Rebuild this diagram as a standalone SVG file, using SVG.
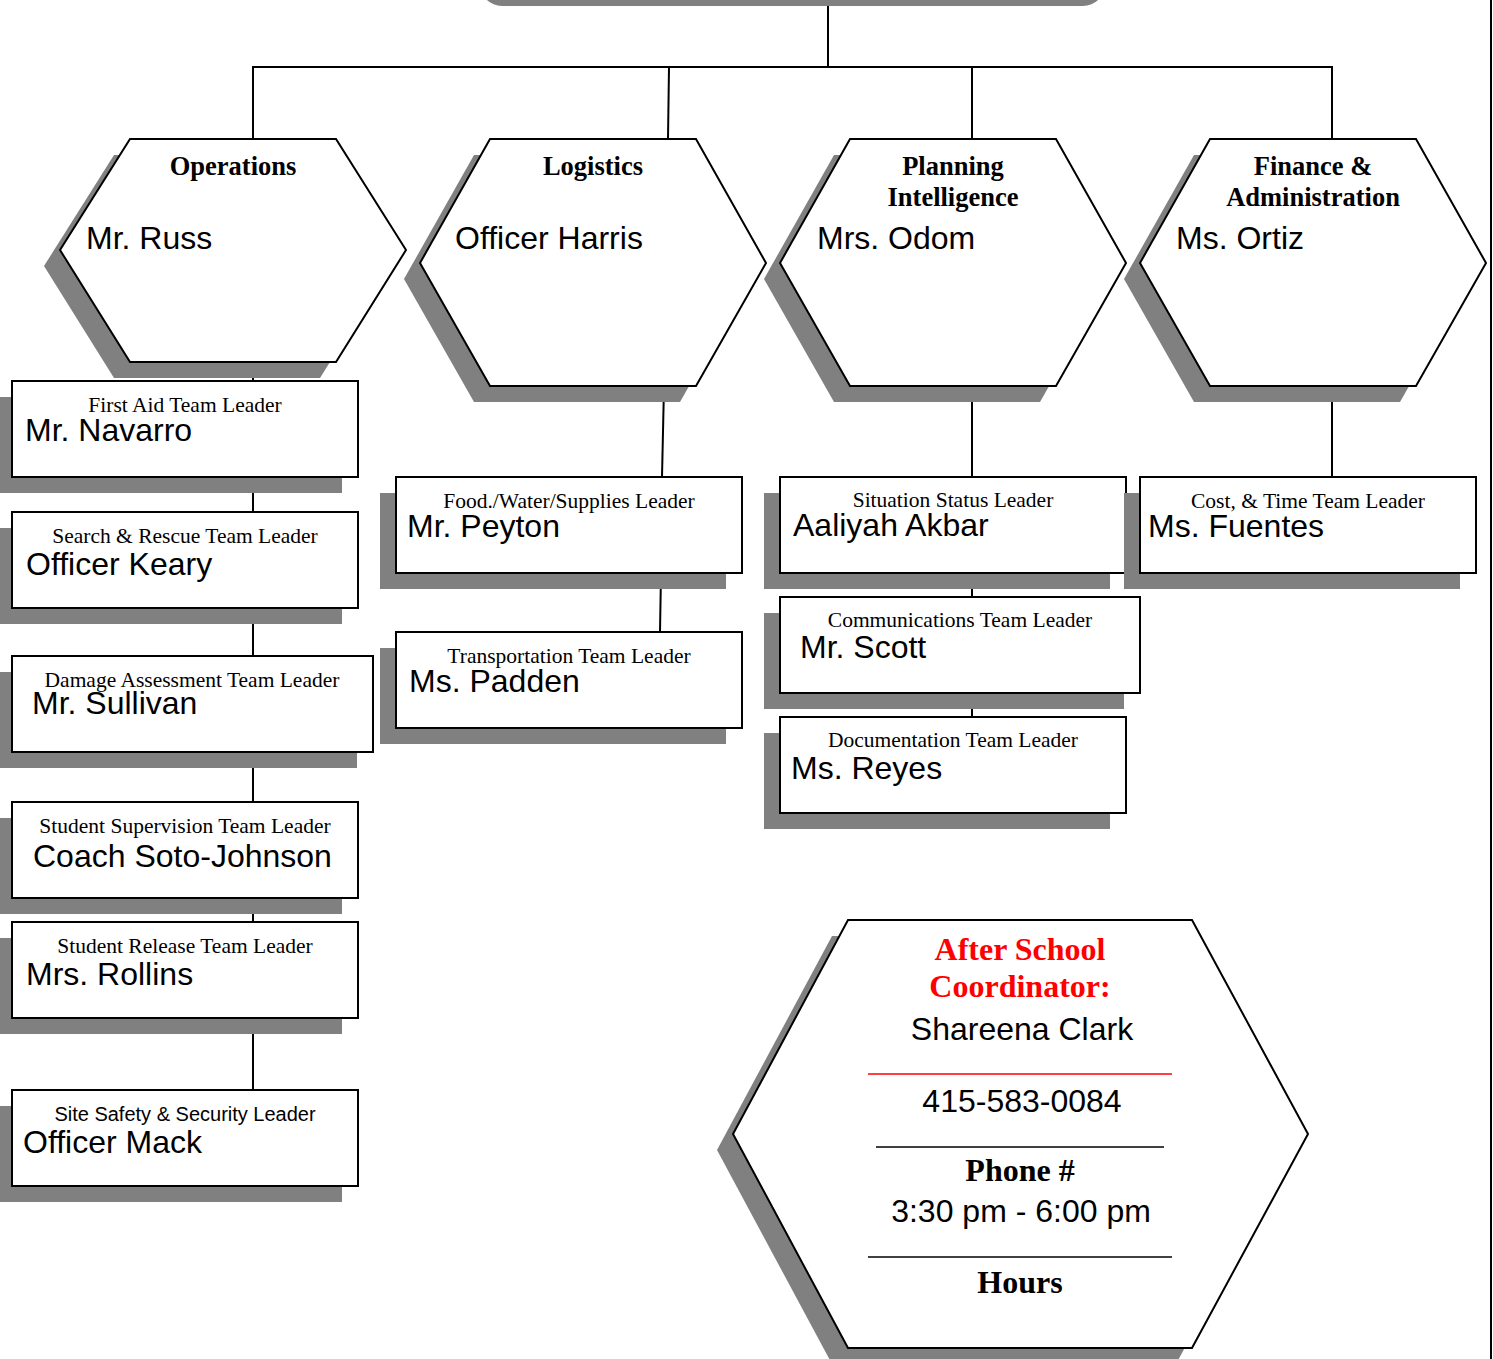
<svg xmlns="http://www.w3.org/2000/svg" width="1493" height="1359" viewBox="0 0 1493 1359">
<style>
.c{stroke:#000;stroke-width:2;fill:none}
.sh{fill:#808080}
.bx{fill:#fff;stroke:#000;stroke-width:2}
.t{font-family:"Liberation Serif","Times New Roman",serif;font-size:21.5px;text-anchor:middle;fill:#000}
.n{font-family:"Liberation Sans",Arial,sans-serif;font-size:32px;fill:#000}
.h{font-family:"Liberation Serif","Times New Roman",serif;font-weight:bold;font-size:26.5px;text-anchor:middle;fill:#000}
.r{font-family:"Liberation Serif","Times New Roman",serif;font-weight:bold;font-size:32px;text-anchor:middle;fill:#f00}
.b{font-family:"Liberation Serif","Times New Roman",serif;font-weight:bold;font-size:32px;text-anchor:middle;fill:#000}
.m{font-family:"Liberation Sans",Arial,sans-serif;font-size:32px;text-anchor:middle;fill:#000}
</style>
<rect width="1493" height="1359" fill="#fff"/>
<g id="connectors">
<line class="c" x1="828" y1="6" x2="828" y2="67"/>
<line class="c" x1="252" y1="67" x2="1333" y2="67"/>
<line class="c" x1="253" y1="67" x2="253" y2="139"/>
<line class="c" x1="669" y1="67" x2="668" y2="139"/>
<line class="c" x1="972" y1="67" x2="972" y2="139"/>
<line class="c" x1="1332" y1="67" x2="1332" y2="139"/>
<line class="c" x1="253" y1="362" x2="253" y2="1090"/>
<line class="c" x1="664" y1="386" x2="662" y2="477"/>
<line class="c" x1="661" y1="573" x2="660" y2="632"/>
<line class="c" x1="972" y1="386" x2="972" y2="717"/>
<line class="c" x1="1332" y1="386" x2="1332" y2="477"/>
</g>
<g id="top-node">
<rect class="sh" x="480" y="-40" width="625" height="46" rx="22"/>
</g>
<g id="operations">
<polygon class="sh" points="114,155 320,155 390,266 320,378 114,378 44,266"/>
<polygon class="bx" points="130,139 336,139 406,250 336,362 130,362 60,250"/>
<text class="h" x="233" y="175">Operations</text>
<text class="n" x="86" y="249">Mr. Russ</text>
</g>
<g id="logistics">
<polygon class="sh" points="474,155 680,155 750,279 680,402 474,402 404,279"/>
<polygon class="bx" points="490,139 696,139 766,263 696,386 490,386 420,263"/>
<text class="h" x="593" y="175">Logistics</text>
<text class="n" x="455" y="249">Officer Harris</text>
</g>
<g id="planning">
<polygon class="sh" points="834,155 1040,155 1110,279 1040,402 834,402 764,279"/>
<polygon class="bx" points="850,139 1056,139 1126,263 1056,386 850,386 780,263"/>
<text class="h" x="953" y="175">Planning</text>
<text class="h" x="953" y="206">Intelligence</text>
<text class="n" x="817" y="249">Mrs. Odom</text>
</g>
<g id="finance">
<polygon class="sh" points="1194,155 1400,155 1470,279 1400,402 1194,402 1124,279"/>
<polygon class="bx" points="1210,139 1416,139 1486,263 1416,386 1210,386 1140,263"/>
<text class="h" x="1313" y="175">Finance &amp;</text>
<text class="h" x="1313" y="206">Administration</text>
<text class="n" x="1176" y="249">Ms. Ortiz</text>
</g>
<g id="first-aid">
<rect class="sh" x="-4" y="397" width="346" height="96"/>
<rect class="bx" x="12" y="381" width="346" height="96"/>
<text class="t" x="185" y="412">First Aid Team Leader</text>
<text class="n" x="25" y="441">Mr. Navarro</text>
</g>
<g id="search-rescue">
<rect class="sh" x="-4" y="528" width="346" height="96"/>
<rect class="bx" x="12" y="512" width="346" height="96"/>
<text class="t" x="185" y="543">Search &amp; Rescue Team Leader</text>
<text class="n" x="26" y="575">Officer Keary</text>
</g>
<g id="damage-assessment">
<rect class="sh" x="-4" y="672" width="361" height="96"/>
<rect class="bx" x="12" y="656" width="361" height="96"/>
<text class="t" x="192" y="687">Damage Assessment Team Leader</text>
<text class="n" x="32" y="714">Mr. Sullivan</text>
</g>
<g id="student-supervision">
<rect class="sh" x="-4" y="818" width="346" height="96"/>
<rect class="bx" x="12" y="802" width="346" height="96"/>
<text class="t" x="185" y="833">Student Supervision Team Leader</text>
<text class="n" x="33" y="867">Coach Soto-Johnson</text>
</g>
<g id="student-release">
<rect class="sh" x="-4" y="938" width="346" height="96"/>
<rect class="bx" x="12" y="922" width="346" height="96"/>
<text class="t" x="185" y="953">Student Release Team Leader</text>
<text class="n" x="26" y="985">Mrs. Rollins</text>
</g>
<g id="site-safety">
<rect class="sh" x="-4" y="1106" width="346" height="96"/>
<rect class="bx" x="12" y="1090" width="346" height="96"/>
<text x="185" y="1121" style="font-family:'Liberation Sans',Arial,sans-serif;font-size:20px;text-anchor:middle">Site Safety &amp; Security Leader</text>
<text class="n" x="23" y="1153">Officer Mack</text>
</g>
<g id="food-water">
<rect class="sh" x="380" y="493" width="346" height="96"/>
<rect class="bx" x="396" y="477" width="346" height="96"/>
<text class="t" x="569" y="508">Food./Water/Supplies Leader</text>
<text class="n" x="407" y="537">Mr. Peyton</text>
</g>
<g id="transportation">
<rect class="sh" x="380" y="648" width="346" height="96"/>
<rect class="bx" x="396" y="632" width="346" height="96"/>
<text class="t" x="569" y="663">Transportation Team Leader</text>
<text class="n" x="409" y="692">Ms. Padden</text>
</g>
<g id="situation-status">
<rect class="sh" x="764" y="493" width="346" height="96"/>
<rect class="bx" x="780" y="477" width="346" height="96"/>
<text class="t" x="953" y="507">Situation Status Leader</text>
<text class="n" x="793" y="536">Aaliyah Akbar</text>
</g>
<g id="communications">
<rect class="sh" x="764" y="613" width="360" height="96"/>
<rect class="bx" x="780" y="597" width="360" height="96"/>
<text class="t" x="960" y="627">Communications Team Leader</text>
<text class="n" x="800" y="658">Mr. Scott</text>
</g>
<g id="documentation">
<rect class="sh" x="764" y="733" width="346" height="96"/>
<rect class="bx" x="780" y="717" width="346" height="96"/>
<text class="t" x="953" y="747">Documentation Team Leader</text>
<text class="n" x="791" y="779">Ms. Reyes</text>
</g>
<g id="cost-time">
<rect class="sh" x="1124" y="493" width="336" height="96"/>
<rect class="bx" x="1140" y="477" width="336" height="96"/>
<text class="t" x="1308" y="508">Cost, &amp; Time Team Leader</text>
<text class="n" x="1148" y="537">Ms. Fuentes</text>
</g>
<g id="after-school">
<polygon class="sh" points="832,936 1176,936 1292,1150 1176,1364 832,1364 717,1150"/>
<polygon class="bx" points="848,920 1192,920 1308,1134 1192,1348 848,1348 733,1134"/>
<text class="r" x="1020" y="960">After School</text>
<text class="r" x="1020" y="997">Coordinator:</text>
<text class="m" x="1022" y="1040">Shareena Clark</text>
<line x1="868" y1="1074" x2="1172" y2="1074" stroke="#f00" stroke-width="1.5"/>
<text class="m" x="1022" y="1112">415-583-0084</text>
<line x1="876" y1="1147" x2="1164" y2="1147" stroke="#000" stroke-width="1.5"/>
<text class="b" x="1020" y="1181">Phone #</text>
<text class="m" x="1021" y="1222">3:30 pm - 6:00 pm</text>
<line x1="868" y1="1257" x2="1172" y2="1257" stroke="#000" stroke-width="1.5"/>
<text class="b" x="1020" y="1293">Hours</text>
</g>
<g id="page-border">
<line x1="1491" y1="0" x2="1491" y2="1359" stroke="#000" stroke-width="2"/>
</g>
</svg>
